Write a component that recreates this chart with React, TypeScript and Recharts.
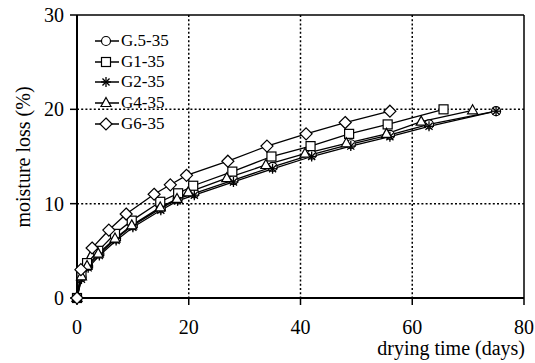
import React from "react";
import {
  LineChart,
  Line,
  XAxis,
  YAxis,
  CartesianGrid,
  ReferenceLine,
  Legend,
} from "recharts";

// drying time (days) and moisture loss (%) per series
const g05Days = [0, 0.8, 2, 4, 7, 10, 15, 18, 21, 28, 35, 42, 49, 56, 63, 75];
const g05Loss = [0, 2.2, 3.4, 4.7, 6.3, 7.7, 9.5, 10.5, 11.1, 12.5, 13.9, 15.2, 16.3, 17.3, 18.4, 19.8];

const g1Days = [0, 0.8, 1.8, 3.8, 6.8, 9.8, 14.9, 18.1, 20.8, 27.8, 34.8, 41.8, 48.7, 55.6, 65.6];
const g1Loss = [0, 2.6, 3.7, 5.0, 6.8, 8.2, 10.2, 11.1, 11.9, 13.4, 15.0, 16.1, 17.4, 18.4, 20.0];

const g2Days = [0, 0.8, 2, 4, 7, 10, 15, 18, 21, 28, 35, 42, 49, 56, 63, 75];
const g2Loss = [0, 2.0, 3.2, 4.5, 6.1, 7.5, 9.3, 10.3, 10.9, 12.3, 13.7, 15.0, 16.1, 17.1, 18.2, 19.8];

const g4Days = [0, 0.8, 1.8, 3.8, 6.8, 9.8, 14.9, 17.9, 19.9, 26.8, 33.8, 40.8, 48.2, 55.4, 61.6, 70.8];
const g4Loss = [0, 2.3, 3.4, 4.7, 6.3, 7.7, 9.6, 10.5, 11.2, 12.7, 14.1, 15.3, 16.4, 17.4, 18.7, 19.9];

const g6Days = [0, 0.7, 2.7, 5.7, 8.8, 13.8, 16.7, 19.6, 27, 34, 41, 48, 56];
const g6Loss = [0, 3.0, 5.3, 7.2, 8.9, 11.0, 12.0, 13.0, 14.5, 16.1, 17.4, 18.6, 19.8];

const xTicks = [0, 20, 40, 60, 80];
const yTicks = [0, 10, 20, 30];

const toRows = (days: number[], loss: number[]) =>
  days.map((d, i) => ({ day: d, loss: loss[i] }));

type Shape = "circle" | "square" | "star" | "triangle" | "diamond";

const series: { name: string; shape: Shape; data: { day: number; loss: number }[] }[] = [
  { name: "G.5-35", shape: "circle", data: toRows(g05Days, g05Loss) },
  { name: "G1-35", shape: "square", data: toRows(g1Days, g1Loss) },
  { name: "G2-35", shape: "star", data: toRows(g2Days, g2Loss) },
  { name: "G4-35", shape: "triangle", data: toRows(g4Days, g4Loss) },
  { name: "G6-35", shape: "diamond", data: toRows(g6Days, g6Loss) },
];

const FONT = "Liberation Serif";

function Marker({ shape, cx, cy }: { shape: Shape; cx: number; cy: number }) {
  const st = { fill: "#fff", stroke: "#000", strokeWidth: 1.2 };
  if (shape === "circle") return <circle cx={cx} cy={cy} r={4.5} {...st} />;
  if (shape === "square")
    return <rect x={cx - 4.5} y={cy - 4.5} width={9} height={9} {...st} />;
  if (shape === "triangle")
    return (
      <polygon
        points={`${cx},${cy - 5.5} ${cx + 5},${cy + 3.5} ${cx - 5},${cy + 3.5}`}
        {...st}
      />
    );
  if (shape === "diamond")
    return (
      <polygon
        points={`${cx},${cy - 6} ${cx + 6},${cy} ${cx},${cy + 6} ${cx - 6},${cy}`}
        {...st}
      />
    );
  const r = 5;
  const d = r * 0.707;
  return (
    <g stroke="#000" strokeWidth={1.3}>
      <line x1={cx - r} y1={cy} x2={cx + r} y2={cy} />
      <line x1={cx} y1={cy - r} x2={cx} y2={cy + r} />
      <line x1={cx - d} y1={cy - d} x2={cx + d} y2={cy + d} />
      <line x1={cx - d} y1={cy + d} x2={cx + d} y2={cy - d} />
    </g>
  );
}

function LegendBox() {
  return (
    <div style={{ fontFamily: FONT, fontSize: 17, color: "#000" }}>
      {series.map((s) => (
        <div
          key={s.name}
          style={{ display: "flex", alignItems: "center", height: 20.6 }}
        >
          <svg width={27} height={20}>
            <line x1={1} y1={10} x2={25} y2={10} stroke="#000" strokeWidth={1.5} />
            <Marker shape={s.shape} cx={12} cy={10} />
          </svg>
          <span style={{ lineHeight: "20px" }}>{s.name}</span>
        </div>
      ))}
    </div>
  );
}

function XTick({ x, y, payload }: any) {
  return (
    <text x={x} y={y + 12} textAnchor="middle" fontFamily={FONT} fontSize={20} fill="#000">
      {payload.value}
    </text>
  );
}

function YTick({ x, y, payload }: any) {
  return (
    <text x={x} y={y + 7} textAnchor="end" fontFamily={FONT} fontSize={20} fill="#000">
      {payload.value}
    </text>
  );
}

function XTitle() {
  return (
    <text x={525} y={355} textAnchor="end" fontFamily={FONT} fontSize={20} fill="#000">
      drying time (days)
    </text>
  );
}

function YTitle() {
  return (
    <text
      x={30}
      y={157}
      textAnchor="middle"
      transform="rotate(-90, 30, 157)"
      fontFamily={FONT}
      fontSize={20}
      fill="#000"
    >
      moisture loss (%)
    </text>
  );
}

export default function App() {
  return (
    <div style={{ position: "absolute", left: 0, top: 0, width: 535, height: 363 }}>
      <LineChart
        width={535}
        height={363}
        margin={{ top: 15, right: 11, left: 0, bottom: 0 }}
      >
        <CartesianGrid
          stroke="#000"
          strokeDasharray="2 2.2"
          strokeWidth={1.5}
          horizontalValues={[10, 20]}
          verticalValues={[20, 40, 60]}
        />
        <XAxis
          type="number"
          dataKey="day"
          domain={[0, 80]}
          ticks={xTicks}
          height={65}
          tick={<XTick />}
          tickSize={7}
          tickMargin={17}
          axisLine={{ stroke: "#000", strokeWidth: 2 }}
          tickLine={{ stroke: "#000", strokeWidth: 1.5 }}
          allowDuplicatedCategory={false}
          label={<XTitle />}
        />
        <YAxis
          type="number"
          domain={[0, 30]}
          ticks={yTicks}
          width={77}
          tick={<YTick />}
          tickSize={7}
          tickMargin={6}
          axisLine={{ stroke: "#000", strokeWidth: 2 }}
          tickLine={{ stroke: "#000", strokeWidth: 1.5 }}
          label={<YTitle />}
        />
        <ReferenceLine y={30} stroke="#000" strokeWidth={1.5} />
        <ReferenceLine x={80} stroke="#000" strokeWidth={1.5} />
        {series.map((s) => (
          <Line
            key={s.name}
            data={s.data}
            dataKey="loss"
            name={s.name}
            stroke="#000"
            strokeWidth={1.3}
            isAnimationActive={false}
            legendType="none"
            dot={(p: any) => (
              <Marker key={`${s.name}-${p.index}`} shape={s.shape} cx={p.cx} cy={p.cy} />
            )}
            activeDot={false}
          />
        ))}
        <Legend
          layout="vertical"
          align="center"
          verticalAlign="middle"
          wrapperStyle={{ top: 31, left: 94, width: "auto" }}
          content={() => <LegendBox />}
        />
      </LineChart>
    </div>
  );
}
